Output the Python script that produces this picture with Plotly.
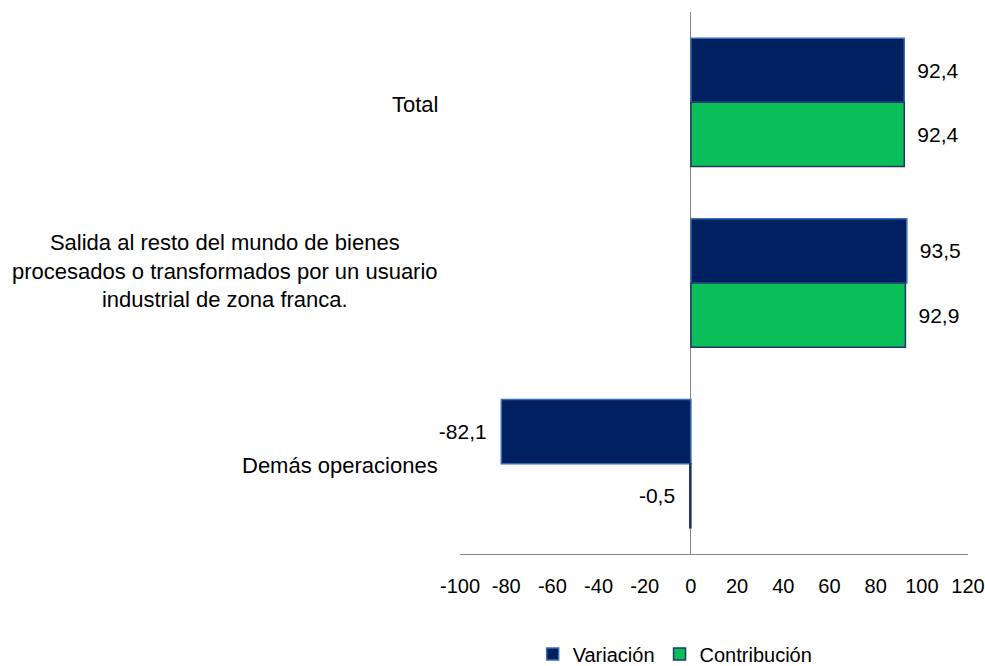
import plotly.graph_objects as go

categories = ["Total",
              "Salida al resto del mundo de bienes<br>procesados o transformados por un usuario<br>industrial de zona franca.",
              "Demás operaciones"]
variacion = [92.4, 93.5, -82.1]
contribucion = [92.4, 92.9, -0.5]
series_names = ["Variación", "Contribución"]
x_ticks = [-100, -80, -60, -40, -20, 0, 20, 40, 60, 80, 100, 120]

FONT = "Liberation Sans Narrow, Arial Narrow, Liberation Sans, Arial, sans-serif"

def fmt(v):
    s = f"{v:.1f}".replace(".", ",")
    return ("\u00a0\u2009" + s) if v >= 0 else (s + "\u00a0\u00a0")

fig = go.Figure()
fig.add_trace(go.Bar(
    y=categories, x=variacion, orientation="h", name=series_names[0],
    marker=dict(color="#002060", line=dict(color="#3A6DB5", width=1.5)),
    text=[fmt(v) for v in variacion], textposition="outside",
    textfont=dict(family=FONT, size=21, color="#000000"), cliponaxis=False,
))
fig.add_trace(go.Bar(
    y=categories, x=contribucion, orientation="h", name=series_names[1],
    marker=dict(color="#0ABF5A", line=dict(color="#1F3864", width=1.5)),
    text=[fmt(v) for v in contribucion], textposition="outside",
    textfont=dict(family=FONT, size=21, color="#000000"), cliponaxis=False,
))

for i, c in enumerate(categories):
    fig.add_annotation(
        x=-0.039, xref="paper", y=c, yref="y", text=c, showarrow=False,
        xanchor="right", yanchor="middle", align="center",
        yshift=12 if i == 1 else -2,
        font=dict(family=FONT, size=22, color="#000000"),
    )

fig.update_layout(
    width=985, height=666,
    margin=dict(l=460, r=17, t=12, b=112, autoexpand=False),
    paper_bgcolor="white", plot_bgcolor="white",
    barmode="group", bargap=0.29, bargroupgap=0,
    font=dict(family=FONT, size=21, color="#000000"),
    showlegend=True,
    legend=dict(orientation="h", x=0.143, xanchor="left", y=-0.1845, yanchor="middle",
                font=dict(family=FONT, size=20, color="#000000"),
                itemwidth=30),
    xaxis=dict(range=[-100, 120], tickvals=x_ticks,
               ticktext=[str(t) for t in x_ticks],
               showgrid=False, zeroline=True, zerolinecolor="#868686", zerolinewidth=1,
               showline=True, linecolor="#868686", linewidth=1, ticks="",
               ticklabelstandoff=14, automargin=False, ticklabeloverflow="allow",
               tickfont=dict(family=FONT, size=20, color="#000000")),
    yaxis=dict(autorange="reversed", showticklabels=False, showgrid=False,
               zeroline=False, showline=False, ticks="", automargin=False),
)

fig.write_html("out.html", config={"displayModeBar": False},
               post_script="document.body.style.margin='0px';document.body.style.overflow='hidden';")
